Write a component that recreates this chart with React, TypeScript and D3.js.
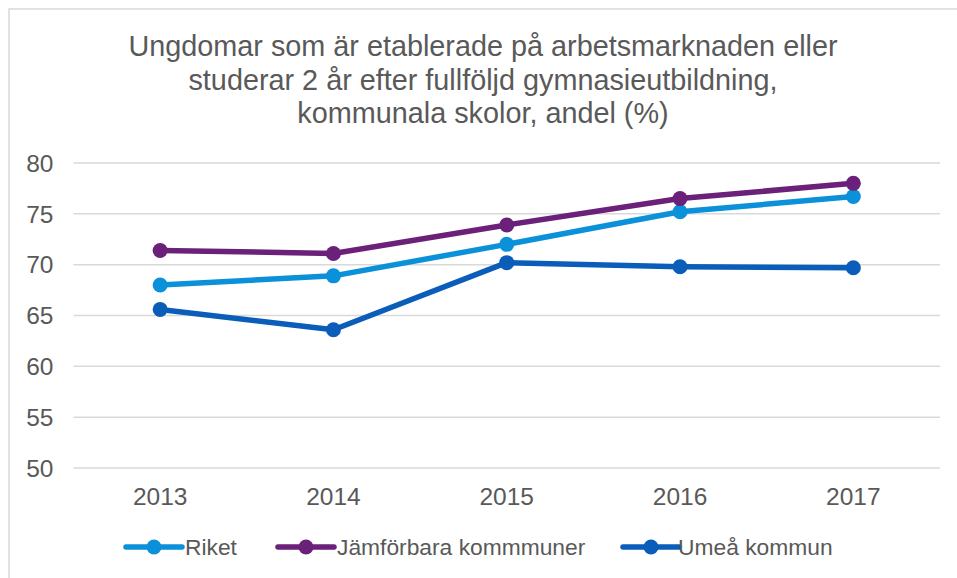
import React from "react";
import * as d3 from "d3";

const years = ["2013", "2014", "2015", "2016", "2017"];
const riket = [68.0, 68.9, 72.0, 75.2, 76.7];
const jamforbara = [71.4, 71.1, 73.9, 76.5, 78.0];
const umea = [65.6, 63.6, 70.2, 69.8, 69.7];
const yTicks = [50, 55, 60, 65, 70, 75, 80];
const titleLines = [
  "Ungdomar som är etablerade på arbetsmarknaden eller",
  "studerar 2 år efter fullföljd gymnasieutbildning,",
  "kommunala skolor, andel (%)",
];
const seriesNames = ["Riket", "Jämförbara kommmuner", "Umeå kommun"];
const seriesColors = ["#0a91da", "#6b2179", "#0a5db8"];

export default function App() {
  const W = 957;
  const H = 578;
  const x = d3.scaleBand<string>().domain(years).range([73.5, 940]);
  const y = d3.scaleLinear().domain([50, 80]).range([468, 163]);
  const line = d3
    .line<number>()
    .x((_, i) => (x(years[i]) as number) + x.bandwidth() / 2)
    .y((d) => y(d));
  const series = [riket, jamforbara, umea];
  const font = "'Liberation Sans', Arial, sans-serif";
  const textColor = "#595959";
  const legendItems = [
    { lx: 126, tx: 185 },
    { lx: 278, tx: 337 },
    { lx: 623, tx: 678 },
  ];

  return (
    <svg
      width={W}
      height={H}
      style={{ position: "absolute", left: 0, top: 0, background: "#fff" }}
      fontFamily={font}
    >
      <rect x={0} y={0} width={W} height={H} fill="#fff" />
      <rect x={9} y={9} width={W + 20} height={H + 20} fill="none" stroke="#d9d9d9" strokeWidth={1.5} />
      {titleLines.map((t, i) => (
        <text key={i} x={483} y={56 + i * 33.5} textAnchor="middle" fontSize={28.8} fill={textColor}>
          {t}
        </text>
      ))}
      {yTicks.map((t) => (
        <g key={t}>
          <line x1={73.5} x2={940} y1={y(t)} y2={y(t)} stroke="#d9d9d9" strokeWidth={1.5} />
          <text x={53.5} y={y(t)} dy="0.36em" textAnchor="end" fontSize={24.5} fill={textColor}>
            {t}
          </text>
        </g>
      ))}
      {years.map((yr) => (
        <text
          key={yr}
          x={(x(yr) as number) + x.bandwidth() / 2}
          y={504.5}
          textAnchor="middle"
          fontSize={24.5}
          fill={textColor}
        >
          {yr}
        </text>
      ))}
      {series.map((s, si) => (
        <g key={si}>
          <path d={line(s) || ""} fill="none" stroke={seriesColors[si]} strokeWidth={5.5} strokeLinejoin="round" />
          {s.map((v, i) => (
            <circle
              key={i}
              cx={(x(years[i]) as number) + x.bandwidth() / 2}
              cy={y(v)}
              r={7.5}
              fill={seriesColors[si]}
            />
          ))}
        </g>
      ))}
      {legendItems.map((it, i) => (
        <g key={i}>
          <line
            x1={it.lx}
            x2={it.lx + 56}
            y1={547}
            y2={547}
            stroke={seriesColors[i]}
            strokeWidth={5.5}
            strokeLinecap="round"
          />
          <circle cx={it.lx + 28} cy={547} r={7.5} fill={seriesColors[i]} />
          <text x={it.tx} y={547} dy="0.36em" fontSize={22.8} fill={textColor}>
            {seriesNames[i]}
          </text>
        </g>
      ))}
    </svg>
  );
}
